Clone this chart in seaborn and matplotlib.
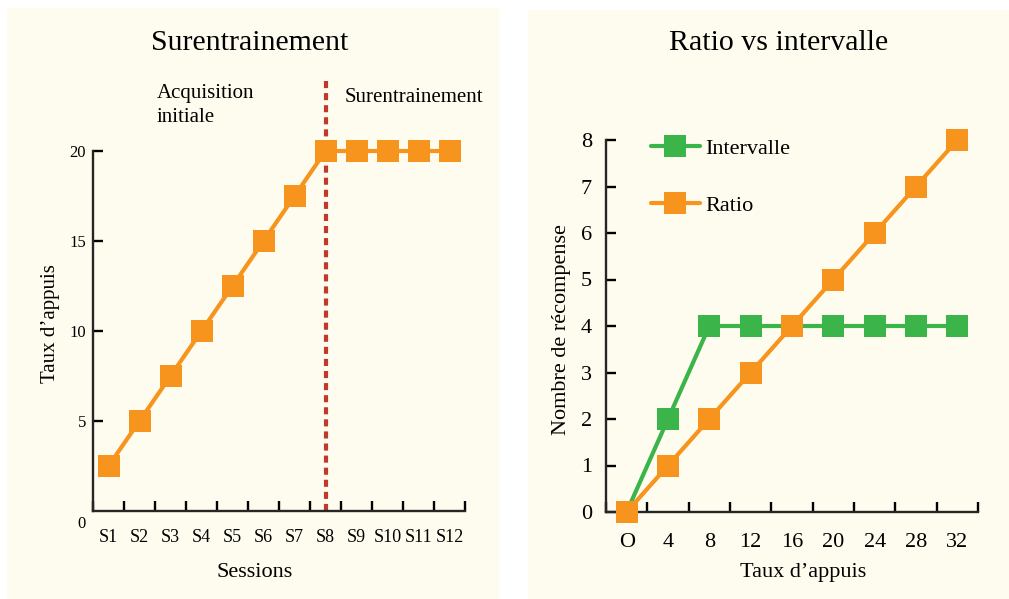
import numpy as np
import pandas as pd
import seaborn as sns
import matplotlib.pyplot as plt
from matplotlib.patches import Rectangle

# données du graphique de gauche (surentrainement)
sessions = ['S1', 'S2', 'S3', 'S4', 'S5', 'S6', 'S7', 'S8', 'S9', 'S10', 'S11', 'S12']
taux_sessions = [2.5, 5, 7.5, 10, 12.5, 15, 17.5, 20, 20, 20, 20, 20]

# données du graphique de droite (ratio vs intervalle)
appuis_labels = ['O', '4', '8', '12', '16', '20', '24', '28', '32']
recomp_intervalle = [0, 2, 4, 4, 4, 4, 4, 4, 4]
recomp_ratio = [0, 1, 2, 3, 4, 5, 6, 7, 8]

orange = '#f7941d'
vert = '#3bb44a'
rouge = '#c0392b'
creme = '#fefcee'

sns.set_theme(style='ticks')
plt.rcParams['font.family'] = ['Liberation Serif', 'DejaVu Serif']
plt.rcParams['axes.linewidth'] = 1.7
plt.rcParams['text.color'] = 'black'
plt.rcParams['axes.labelcolor'] = 'black'
plt.rcParams['xtick.color'] = 'black'
plt.rcParams['ytick.color'] = 'black'

W, H = 1009, 599
fig = plt.figure(figsize=(W / 100, H / 100), dpi=100, facecolor='white')

# fonds crème des deux panneaux
fig.add_artist(Rectangle((7 / W, 0), 492 / W, (H - 8) / H, transform=fig.transFigure,
                         facecolor=creme, edgecolor='none', zorder=0))
fig.add_artist(Rectangle((528 / W, 0), 481 / W, (H - 10) / H, transform=fig.transFigure,
                         facecolor=creme, edgecolor='none', zorder=0))

ax1 = fig.add_axes([93 / W, 88 / H, 372 / W, 360 / H])
ax2 = fig.add_axes([606 / W, 87 / H, 372 / W, 372 / H])
for ax in (ax1, ax2):
    ax.set_facecolor('none')
    sns.despine(ax=ax)

# ---- graphique de gauche ----
df1 = pd.DataFrame({'pos': np.arange(len(sessions)), 'taux': taux_sessions})
sns.lineplot(data=df1, x='pos', y='taux', color=orange, marker='s', markersize=16.5,
             markeredgewidth=0, linewidth=3, clip_on=False, zorder=3, ax=ax1)
ax1.set_xlim(-0.5, len(sessions) - 0.5)
ax1.set_ylim(0, 20)
ax1.set_xticks(np.arange(len(sessions) + 1) - 0.5)
ax1.set_xticklabels([])
ax1.set_xticks(np.arange(len(sessions)), minor=True)
ax1.set_xticklabels(sessions, minor=True, fontsize=13)
ax1.tick_params(axis='x', which='major', direction='in', length=7, width=1.7)
ax1.tick_params(axis='x', which='minor', length=0, pad=13)
ax1.set_yticks([5, 10, 15, 20])
ax1.tick_params(axis='y', direction='in', length=7, width=1.7, labelsize=12, pad=5)
ax1.text(-0.019, -0.036, '0', transform=ax1.transAxes, ha='right', va='center', fontsize=12)

s8 = sessions.index('S8')
ax1.vlines(s8, 0, 24.1, color=rouge, linewidth=3, linestyle=(0, (1.7, 1.2)),
           clip_on=False, zorder=2)
ax1.text(0.172, 1.185, 'Acquisition\ninitiale', transform=ax1.transAxes,
         ha='left', va='top', fontsize=15, linespacing=1.3)
ax1.text(0.677, 1.15, 'Surentrainement', transform=ax1.transAxes,
         ha='left', va='center', fontsize=15)

ax1.set_xlabel('Sessions', fontsize=16)
ax1.set_ylabel('Taux d\u2019appuis', fontsize=15)
ax1.xaxis.set_label_coords(0.435, -0.144)
ax1.yaxis.set_label_coords(-0.089, 0.52)

# ---- graphique de droite ----
pos2 = np.arange(len(appuis_labels))
sns.lineplot(x=pos2, y=recomp_intervalle, color=vert, marker='s', markersize=16.5,
             markeredgewidth=0, linewidth=3, clip_on=False, zorder=3,
             label='Intervalle', ax=ax2)
sns.lineplot(x=pos2, y=recomp_ratio, color=orange, marker='s', markersize=16.5,
             markeredgewidth=0, linewidth=3, clip_on=False, zorder=3,
             label='Ratio', ax=ax2)
ax2.set_xlim(-0.5, len(appuis_labels) - 0.5)
ax2.set_ylim(0, 8)
ax2.set_xticks(np.arange(len(appuis_labels) + 1) - 0.5)
ax2.set_xticklabels([])
ax2.set_xticks(pos2, minor=True)
ax2.set_xticklabels(appuis_labels, minor=True, fontsize=16)
ax2.tick_params(axis='x', which='major', direction='in', length=7, width=1.7)
ax2.tick_params(axis='x', which='minor', length=0, pad=15)
ax2.set_yticks(range(0, 9))
ax2.tick_params(axis='y', direction='in', length=7, width=1.7, labelsize=16, pad=10)

ax2.legend(loc='upper left', bbox_to_anchor=(0.12, 1.005), frameon=False,
           fontsize=16, handlelength=2.2, handletextpad=0.25, labelspacing=1.65,
           borderpad=0, borderaxespad=0)

ax2.set_xlabel('Taux d\u2019appuis', fontsize=16)
ax2.set_ylabel('Nombre de r\u00e9compense', fontsize=16)
ax2.xaxis.set_label_coords(0.53, -0.137)
ax2.yaxis.set_label_coords(-0.095, 0.49)

# titres
fig.text(250 / W, 1 - 43 / H, 'Surentrainement', ha='center', va='center', fontsize=21.5)
fig.text(779 / W, 1 - 43 / H, 'Ratio vs intervalle', ha='center', va='center', fontsize=21.5)

fig.savefig('out.png', dpi=100, facecolor='white')
